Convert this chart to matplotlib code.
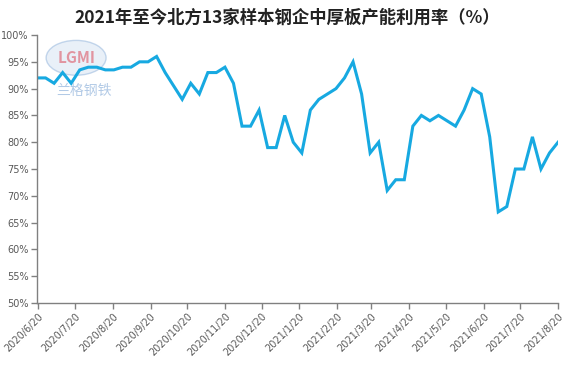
import matplotlib
matplotlib.use('Agg')
import matplotlib.pyplot as plt
from matplotlib.patches import Ellipse
import pandas as pd

plt.rcParams['font.family'] = ['Noto Sans CJK SC', 'DejaVu Sans']

title = '2021年至今北方13家样本钢企中厚板产能利用率（%）'

# weekly observations, Friday 2020/6/19 .. Friday 2021/8/20
dates = pd.date_range('2020-06-19', periods=62, freq='7D')
rate = [92, 92, 91, 93, 91, 93.5, 94, 94, 93.5, 93.5,
        94, 94, 95, 95, 96, 93, 90.5, 88, 91, 89,
        93, 93, 94, 91, 83, 83, 86, 79, 79, 85,
        80, 78, 86, 88, 89, 90, 92, 95, 89, 78,
        80, 71, 73, 73, 83, 85, 84, 85, 84, 83,
        86, 90, 89, 81, 67, 68, 75, 75, 81, 75,
        78, 80]

tick_dates = pd.date_range('2020-06-01', '2021-08-01', freq='MS') + pd.Timedelta(days=19)
tick_labels = [f'{d.year}/{d.month}/20' for d in tick_dates]
y_ticks = list(range(50, 101, 5))


def main():
    fig = plt.figure(figsize=(5.74, 3.91), dpi=100)
    ax = fig.add_axes([0.0645, 0.225, 0.9077, 0.6854])

    ax.plot(dates, rate, color='#17a9e1', linewidth=2.2, solid_joinstyle='miter')

    ax.set_xlim(pd.Timestamp('2020-06-19'), pd.Timestamp('2021-08-20'))
    ax.set_ylim(50, 100)
    ax.set_yticks(y_ticks)
    ax.set_yticklabels([f'{v}%' for v in y_ticks], fontsize=7, color='#595959',
                       family='DejaVu Sans')
    ax.set_xticks(tick_dates)
    ax.set_xticklabels(tick_labels, rotation=45, ha='right', rotation_mode='anchor',
                       fontsize=7, color='#595959', family='DejaVu Sans')

    for s in ['top', 'right']:
        ax.spines[s].set_visible(False)
    for s in ['left', 'bottom']:
        ax.spines[s].set_color('#808080')
        ax.spines[s].set_linewidth(1.0)
    ax.tick_params(axis='both', direction='out', length=4, width=1.0, color='#808080', pad=2)

    fig.text(0.5, 0.955, title, ha='center', va='center', fontsize=12.5,
             fontweight='bold', color='#222222')

    # faint watermark logo
    ax.add_patch(Ellipse((0.075, 0.915), 0.115, 0.13, transform=ax.transAxes,
                         facecolor='#dbe6f4', edgecolor='#9fbde0', alpha=0.6, lw=1))
    ax.text(0.075, 0.915, 'LGMI', transform=ax.transAxes, ha='center', va='center',
            fontsize=11, fontweight='bold', color='#e07d8a', alpha=0.8)
    ax.text(0.09, 0.79, '兰格钢铁', transform=ax.transAxes, ha='center', va='center',
            fontsize=10, color='#9fbde0', alpha=0.8)

    fig.savefig('out.png', dpi=100)


if __name__ == "__main__":
    main()
